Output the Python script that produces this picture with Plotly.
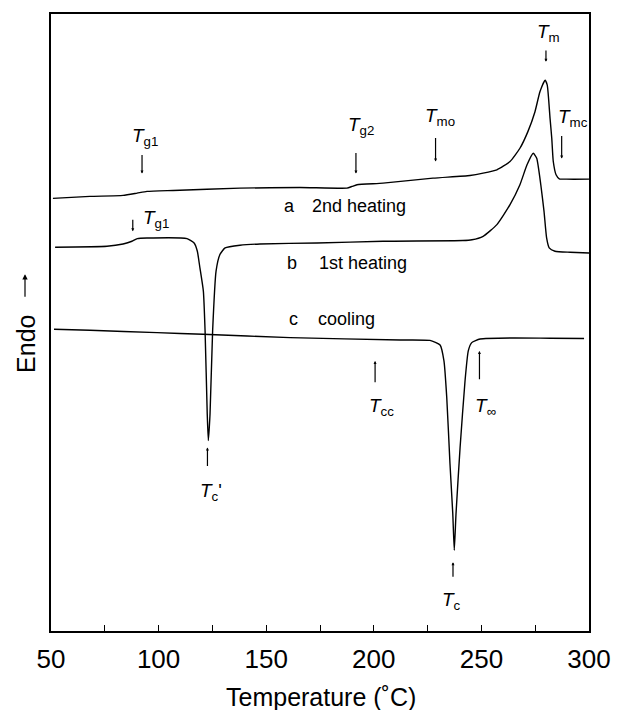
import plotly.graph_objects as go

# ---------------- data ----------------
# curve a : 2nd heating
a_temp = [50.9, 68.1, 83.5, 90.0, 94.6, 106.7, 137.8, 165.7, 187.5, 189.9, 192.2, 204.3,
          227.5, 244.7, 250.8, 257.2, 263.3, 267.9, 271.6, 274.9, 277.2, 279.6, 280.6,
          281.9, 282.7, 283.4, 284.7, 286.2, 289.6, 300.0]
a_flow = [434, 436, 437, 439.3, 441, 442, 444.3, 445, 444.3, 446, 447.7, 449.3,
          454.3, 457, 459.3, 462.7, 471, 484.3, 501, 521, 541, 552.7, 547.7,
          514.3, 494.3, 471, 457.7, 453.7, 453.3, 453.3]

# curve b : 1st heating
b_temp = [51.9, 76.0, 83.5, 87.6, 90.1, 94.6, 113.2, 116.5, 118.0, 119.2, 120.8, 121.6,
          122.6, 123.1, 123.9, 125.1, 126.7, 128.5, 130.9, 137.8, 147.1, 173.6, 204.3,
          241.4, 245.6, 250.8, 257.2, 263.3, 267.9, 271.2, 274.1, 275.7, 277.6, 279.1,
          280.3, 281.5, 284.2, 291.2, 300.0]
b_flow = [385, 386, 388.3, 391, 393.7, 394.3, 393.7, 389.3, 381, 364.3, 341, 301,
          217.7, 191, 217.7, 301, 361, 377.7, 384.3, 387, 388.3, 389.3, 391,
          391.7, 392.5, 396, 407.7, 427.7, 447.7, 467.7, 479.3, 474.3, 447.7, 421,
          394.3, 384.3, 381, 380, 379.3]

# curve c : cooling
c_temp = [51.4, 68.1, 99.3, 120.6, 161.1, 212.2, 226.1, 230.8, 232.6, 233.9, 235.4,
          236.7, 237.4, 238.2, 240.1, 242.4, 243.9, 245.5, 249.4, 264.7, 281.9, 297.7]
c_flow = [302.7, 301.7, 299.3, 297.7, 294.3, 292, 291.5, 287, 271, 234.3, 167.7,
          117.7, 81, 117.7, 184.3, 251, 281, 289.3, 293, 294, 293.7, 293.5]

# transition markers: label, label position, arrow (x, tail y, head y)
mark_text = ["<i>T</i><sub>g1</sub>", "<i>T</i><sub>g2</sub>", "<i>T</i><sub>mo</sub>",
             "<i>T</i><sub>m</sub>", "<i>T</i><sub>mc</sub>", "<i>T</i><sub>g1</sub>",
             "<i>T</i><sub>c</sub>'", "<i>T</i><sub>cc</sub>", "<i>T</i><sub>∞</sub>",
             "<i>T</i><sub>c</sub>"]
mark_lx = [93.7, 194.1, 230.8, 281.4, 292.6, 98.8, 124.3, 203.8, 252.1, 236.3]
mark_ly = [496, 507, 516, 600, 515, 413, 139, 225, 225, 30]
arrow_x = [92.3, 191.7, 228.7, 280.0, 287.3, 88.0, 122.7, 200.6, 249.1, 236.8]
arrow_y0 = [479, 481, 496, 584, 498, 414, 164, 248, 251, 53]
arrow_y1 = [459, 459, 471, 571, 474, 401, 184, 271, 281, 69]

# curve captions
cap_letter = ["a", "b", "c"]
cap_text = ["2nd heating", "1st heating", "cooling"]
cap_lx = [157.3, 158.7, 159.7]
cap_tx = [170.3, 173.6, 173.1]
cap_y = [426, 369, 313]

tick_vals = [50, 75, 100, 125, 150, 175, 200, 225, 250, 275, 300]
tick_text = ["50", "", "100", "", "150", "", "200", "", "250", "", "300"]

# ---------------- figure ----------------
FONT = "Liberation Sans, Arial, Helvetica, sans-serif"
fig = go.Figure()
for t, f in [(a_temp, a_flow), (b_temp, b_flow), (c_temp, c_flow)]:
    fig.add_trace(go.Scatter(x=t, y=f, mode="lines",
                             line=dict(color="black", width=1.4, shape="spline", smoothing=0.5),
                             showlegend=False, hoverinfo="skip"))

ann = []
for txt, lx, ly in zip(mark_text, mark_lx, mark_ly):
    ann.append(dict(x=lx, y=ly, xref="x", yref="y", text=txt, showarrow=False,
                    font=dict(family=FONT, size=19, color="black"),
                    xanchor="center", yanchor="middle"))
for x, y0, y1 in zip(arrow_x, arrow_y0, arrow_y1):
    ann.append(dict(x=x, y=y1, ax=x, ay=y0, xref="x", yref="y", axref="x", ayref="y",
                    text="", showarrow=True, arrowhead=2, arrowsize=0.5,
                    arrowwidth=1.2, arrowcolor="black"))
for l, t, lx, tx, y in zip(cap_letter, cap_text, cap_lx, cap_tx, cap_y):
    ann.append(dict(x=lx, y=y, xref="x", yref="y", text=l, showarrow=False,
                    xanchor="left", yanchor="middle",
                    font=dict(family=FONT, size=18, color="black")))
    ann.append(dict(x=tx, y=y, xref="x", yref="y", text=t, showarrow=False,
                    xanchor="left", yanchor="middle",
                    font=dict(family=FONT, size=18, color="black")))
# y-axis title "Endo" plus its upward arrow
ann.append(dict(xref="paper", yref="paper", x=0, y=(631 - 343) / 619, xshift=-25,
                text="Endo", textangle=-90, showarrow=False,
                xanchor="center", yanchor="middle",
                font=dict(family=FONT, size=25, color="black")))
ann.append(dict(xref="paper", yref="paper", x=0, y=(631 - 273) / 619, xshift=-26,
                ax=0, ay=24, axref="pixel", ayref="pixel",
                text="", showarrow=True, arrowhead=2, arrowsize=0.9,
                arrowwidth=1.2, arrowcolor="black"))
# x-axis title
ann.append(dict(xref="paper", yref="paper", x=(321 - 51) / 538, y=0, yshift=-66,
                text="Temperature (˚C)", showarrow=False,
                xanchor="center", yanchor="middle",
                font=dict(family=FONT, size=25, color="black")))

fig.update_layout(
    width=629, height=710,
    margin=dict(l=51, r=40, t=12, b=79),
    paper_bgcolor="white", plot_bgcolor="white",
    annotations=ann,
    xaxis=dict(range=[50, 300], tickvals=tick_vals, ticktext=tick_text,
               ticks="inside", ticklen=6, tickwidth=1.2, tickcolor="black",
               showline=True, linecolor="black", linewidth=1.5, mirror=True,
               showgrid=False, zeroline=False, ticklabelstandoff=4,
               tickfont=dict(family=FONT, size=26, color="black")),
    yaxis=dict(range=[0, 619], showticklabels=False, ticks="",
               showline=True, linecolor="black", linewidth=1.5, mirror=True,
               showgrid=False, zeroline=False),
)

fig.write_html("out.html")
